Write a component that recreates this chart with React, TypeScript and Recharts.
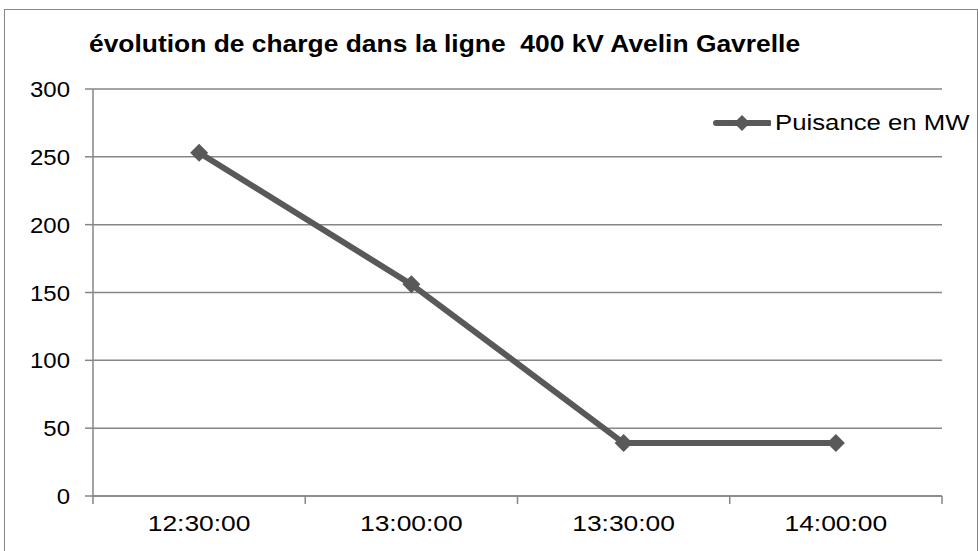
import { LineChart, Line, XAxis, YAxis, CartesianGrid } from "recharts";

const times = ["12:30:00", "13:00:00", "13:30:00", "14:00:00"];
const puissance = [253, 156, 39, 39];
const yTicks = [0, 50, 100, 150, 200, 250, 300];
const seriesName = "Puisance en MW";

const data = times.map((t, i) => ({ time: t, mw: puissance[i] }));

const W = 978;
const H = 551;
const PLOT_LEFT = 93;
const PLOT_RIGHT = 942;
const BAND = (PLOT_RIGHT - PLOT_LEFT) / times.length;
const GRID = "#868686";
const LINE = "#595959";
const FONT = "'Liberation Sans', Arial, sans-serif";

const Diamond = (props: any) => {
  const { cx, cy } = props;
  if (cx == null || cy == null) return null;
  const r = 9;
  return (
    <polygon
      points={`${cx},${cy - r} ${cx + r},${cy} ${cx},${cy + r} ${cx - r},${cy}`}
      fill={LINE}
    />
  );
};

// category labels sit in the middle of each band, tick marks on the band edges
const XTick = (props: any) => {
  const { x, y, payload, index } = props;
  const half = BAND / 2;
  return (
    <g>
      <line x1={x - half} x2={x - half} y1={y - 8} y2={y} stroke={GRID} strokeWidth={1.5} />
      {index === times.length - 1 && (
        <line x1={x + half} x2={x + half} y1={y - 8} y2={y} stroke={GRID} strokeWidth={1.5} />
      )}
      <text
        transform={`translate(${x},${y + 27}) scale(1.2,1)`}
        textAnchor="middle"
        fontSize={22}
        fill="#000"
        fontFamily={FONT}
      >
        {payload.value}
      </text>
    </g>
  );
};

const YTick = (props: any) => {
  const { x, y, payload } = props;
  return (
    <text
      transform={`translate(${x},${y + 8}) scale(1.09,1)`}
      textAnchor="end"
      fontSize={22}
      fill="#000"
      fontFamily={FONT}
    >
      {payload.value}
    </text>
  );
};

export default function App() {
  return (
    <div style={{ position: "fixed", left: 0, top: 0, width: W, height: H, overflow: "hidden", background: "#fff" }}>
      <div
        style={{
          position: "absolute",
          left: 4,
          top: 9,
          width: 974,
          height: 560,
          border: `1.5px solid ${GRID}`,
          boxSizing: "border-box",
        }}
      />
      <div
        style={{
          position: "absolute",
          left: 89,
          top: 32,
          lineHeight: "24px",
          fontFamily: FONT,
          fontWeight: "bold",
          fontSize: 24,
          color: "#000",
          whiteSpace: "nowrap",
          transform: "scaleX(1.1)",
          transformOrigin: "left center",
        }}
      >
        évolution de charge dans la ligne&nbsp; 400 kV Avelin Gavrelle
      </div>
      <div style={{ position: "absolute", left: 0, top: 0 }}>
        <LineChart width={W} height={H} data={data} margin={{ top: 89, right: W - PLOT_RIGHT, bottom: 0, left: 0 }}>
          <CartesianGrid vertical={false} stroke={GRID} strokeWidth={1.5} />
          <XAxis
            dataKey="time"
            height={55}
            padding={{ left: BAND / 2, right: BAND / 2 }}
            axisLine={{ stroke: GRID, strokeWidth: 1.5 }}
            tickLine={false}
            tickSize={8}
            tickMargin={0}
            tick={<XTick />}
            interval={0}
          />
          <YAxis
            width={PLOT_LEFT}
            domain={[0, 300]}
            ticks={yTicks}
            axisLine={{ stroke: GRID, strokeWidth: 1.5 }}
            tickLine={{ stroke: GRID, strokeWidth: 1.5 }}
            tickSize={8}
            tickMargin={15}
            tick={<YTick />}
          />
          <Line
            type="linear"
            dataKey="mw"
            name={seriesName}
            stroke={LINE}
            strokeWidth={6}
            dot={<Diamond />}
            activeDot={false}
            legendType="none"
            isAnimationActive={false}
          />
        </LineChart>
      </div>
      <div
        style={{
          position: "absolute",
          left: 713,
          top: 110,
          display: "flex",
          alignItems: "center",
          fontFamily: FONT,
          fontSize: 22,
          color: "#000",
          whiteSpace: "nowrap",
        }}
      >
        <svg width={58} height={22}>
          <line x1={3} x2={56} y1={11} y2={11} stroke={LINE} strokeWidth={6} strokeLinecap="round" />
          <polygon points="29,3 37,11 29,19 21,11" fill={LINE} />
        </svg>
        <span style={{ marginLeft: 4, display: "inline-block", transform: "scaleX(1.17)", transformOrigin: "left center" }}>
          {seriesName}
        </span>
      </div>
    </div>
  );
}
